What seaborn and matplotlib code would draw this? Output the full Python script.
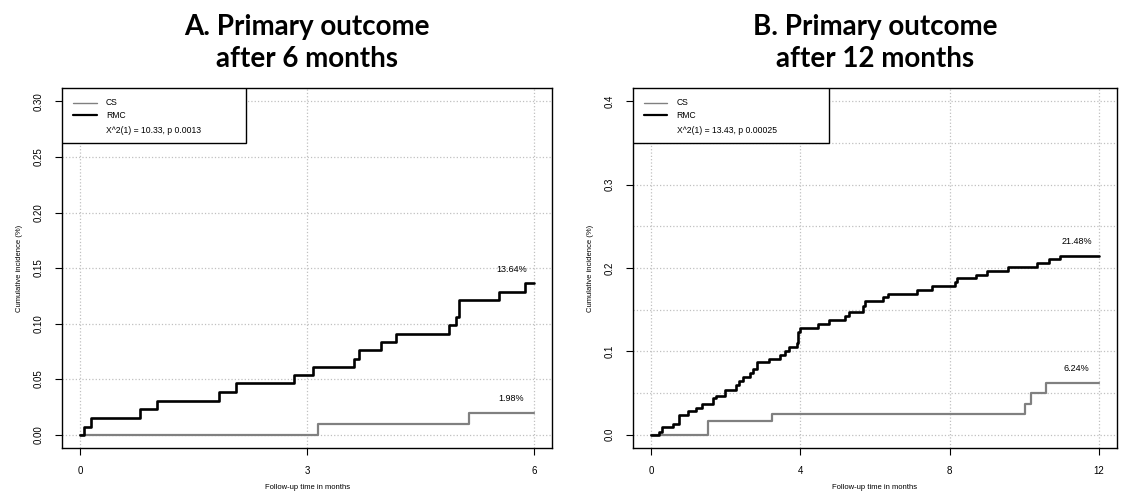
import numpy as np
import pandas as pd
import seaborn as sns
import matplotlib.pyplot as plt
from matplotlib.lines import Line2D
from matplotlib.patches import Rectangle

# Panel A: 6 months
a_rmc_time = [0.0, 0.05, 0.14, 0.79, 1.01, 1.83, 2.06, 2.83, 3.08, 3.62, 3.68, 3.98, 4.18,
              4.87, 4.96, 5.01, 5.54, 5.88, 6.0]
a_rmc_inc = [0.0, 0.0072, 0.0153, 0.0231, 0.0306, 0.0381, 0.0462, 0.0535, 0.0613, 0.0682,
             0.0760, 0.0832, 0.0910, 0.0985, 0.1063, 0.1210, 0.1288, 0.1364, 0.1364]
a_cs_time = [0.0, 3.14, 5.14, 6.0]
a_cs_inc = [0.0, 0.0096, 0.0198, 0.0198]

# Panel B: 12 months
b_rmc_time = [0.0, 0.22, 0.29, 0.60, 0.76, 1.00, 1.21, 1.37, 1.67, 1.74, 1.97, 2.29, 2.35,
              2.47, 2.64, 2.73, 2.85, 3.16, 3.45, 3.58, 3.70, 3.91, 3.95, 3.99, 4.47, 4.76,
              5.19, 5.31, 5.68, 5.72, 6.20, 6.34, 7.12, 7.53, 8.13, 8.20, 8.71, 9.00, 9.56,
              10.34, 10.66, 10.94, 12.0]
b_rmc_inc = [0.0, 0.003, 0.0095, 0.013, 0.023, 0.028, 0.032, 0.037, 0.044, 0.046, 0.054,
             0.060, 0.065, 0.069, 0.074, 0.079, 0.087, 0.091, 0.096, 0.100, 0.105, 0.110,
             0.123, 0.128, 0.133, 0.138, 0.143, 0.147, 0.155, 0.160, 0.165, 0.169, 0.174,
             0.179, 0.183, 0.188, 0.192, 0.196, 0.201, 0.206, 0.211, 0.2148, 0.2148]
b_cs_time = [0.0, 1.54, 3.25, 10.02, 10.18, 10.57, 12.0]
b_cs_inc = [0.0, 0.016, 0.025, 0.0365, 0.0496, 0.0624, 0.0624]

titles = ["A. Primary outcome\nafter 6 months", "B. Primary outcome\nafter 12 months"]
stats = ["X^2(1) = 10.33, p 0.0013", "X^2(1) = 13.43, p 0.00025"]
end_labels = [("13.64%", "1.98%"), ("21.48%", "6.24%")]
xticks = [[0, 3, 6], [0, 4, 8, 12]]
yticks = [[0.0, 0.05, 0.10, 0.15, 0.20, 0.25, 0.30], [0.0, 0.1, 0.2, 0.3, 0.4]]
ytick_labels = [["0.00", "0.05", "0.10", "0.15", "0.20", "0.25", "0.30"],
                ["0.0", "0.1", "0.2", "0.3", "0.4"]]

sns.set_theme(style="white")
plt.rcParams['font.family'] = ['Liberation Sans', 'DejaVu Sans']
plt.rcParams['text.color'] = 'black'
plt.rcParams['axes.labelcolor'] = 'black'
plt.rcParams['xtick.color'] = 'black'
plt.rcParams['ytick.color'] = 'black'

fig = plt.figure(figsize=(11.31, 4.93), dpi=100)
ax_a = fig.add_axes([0.0548, 0.0913, 0.4336, 0.730])
ax_b = fig.add_axes([0.5597, 0.0913, 0.4280, 0.730])

panels = [
    (ax_a, a_rmc_time, a_rmc_inc, a_cs_time, a_cs_inc, 6, 0.30, 0.375),
    (ax_b, b_rmc_time, b_rmc_inc, b_cs_time, b_cs_inc, 12, 0.40, 0.405),
]

for i, (ax, rt, ri, ct, ci, xmax, ymax, legw) in enumerate(panels):
    df = pd.concat([
        pd.DataFrame({"time": ct, "inc": ci, "group": "CS"}),
        pd.DataFrame({"time": rt, "inc": ri, "group": "RMC"}),
    ])
    # dotted grid like R's grid()
    for g in np.arange(0, ymax + 1e-9, 0.05):
        ax.axhline(g, color="#c0c0c0", linestyle=":", linewidth=0.9, zorder=0)
    for g in xticks[i]:
        ax.axvline(g, color="#c0c0c0", linestyle=":", linewidth=0.9, zorder=0)

    sns.lineplot(data=df[df.group == "CS"], x="time", y="inc", ax=ax, color="#808080",
                 linewidth=1.6, drawstyle="steps-post", estimator=None, sort=False, legend=False)
    sns.lineplot(data=df[df.group == "RMC"], x="time", y="inc", ax=ax, color="black",
                 linewidth=1.9, drawstyle="steps-post", estimator=None, sort=False, legend=False)

    ax.set_xlim(-0.04 * xmax, 1.04 * xmax)
    ax.set_ylim(-0.04 * ymax, 1.04 * ymax)
    ax.set_xticks(xticks[i])
    ax.set_xticklabels([str(t) for t in xticks[i]], fontsize=7)
    ax.set_yticks(yticks[i])
    ax.set_yticklabels(ytick_labels[i], fontsize=7, rotation=90, va="center")
    ax.tick_params(axis="both", direction="out", length=5, width=0.8, bottom=True, left=True,
                   color="black", pad=8)
    for s in ax.spines.values():
        s.set_color("black")
        s.set_linewidth(1.0)
    ax.set_xlabel("Follow-up time in months", fontsize=5.5, labelpad=6)
    ax.set_ylabel("Cumulative incidence (%)", fontsize=5.5, labelpad=8)

    # percentages at the end of the curves
    lab_x = xmax * 0.95
    ax.text(lab_x, ri[-1] + 0.028 * ymax, end_labels[i][0], fontsize=6.5, ha="center", va="bottom")
    ax.text(lab_x, ci[-1] + 0.028 * ymax, end_labels[i][1], fontsize=6.5, ha="center", va="bottom")

    # legend box (R style)
    legh = 0.153
    ax.add_patch(Rectangle((0, 1 - legh), legw, legh, transform=ax.transAxes, facecolor="white",
                           edgecolor="black", linewidth=1.0, zorder=5))
    rows = [0.959, 0.925, 0.883]
    ax.add_line(Line2D([0.022, 0.071], [rows[0]] * 2, transform=ax.transAxes, color="#808080",
                       linewidth=1.0, zorder=6))
    ax.add_line(Line2D([0.022, 0.071], [rows[1]] * 2, transform=ax.transAxes, color="black",
                       linewidth=1.6, zorder=6))
    for r, txt in zip(rows, ["CS", "RMC", stats[i]]):
        ax.text(0.09, r, txt, transform=ax.transAxes, fontsize=6.2, va="center", ha="left", zorder=7)

    center_x = ax.get_position().x0 + ax.get_position().width / 2
    fig.text(center_x, 0.913, titles[i], ha="center", va="center", fontsize=20,
             fontweight="bold", family=["Lato", "DejaVu Sans"], linespacing=1.25, color="black")

fig.savefig("out.png", dpi=100)
